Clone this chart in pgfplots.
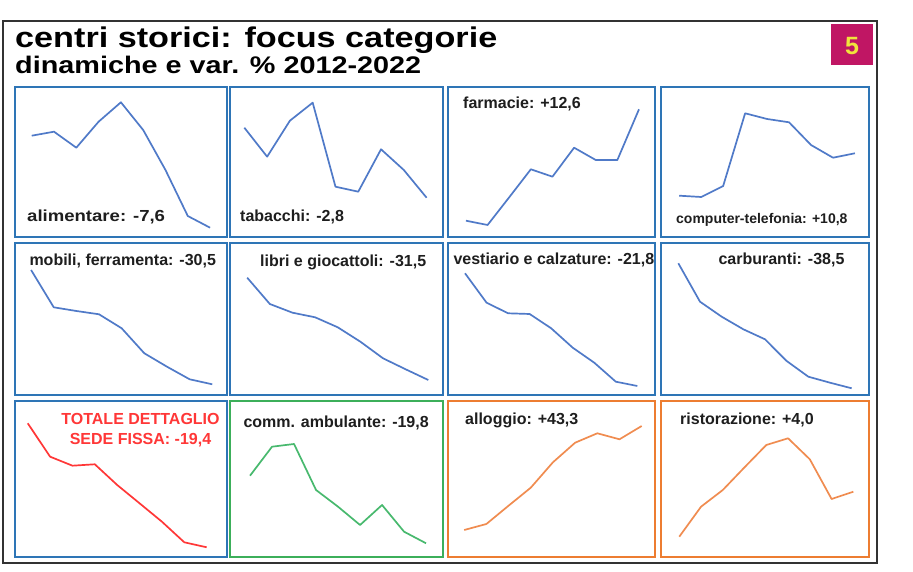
\documentclass[border=0pt]{standalone}
\usepackage{fontspec}
\setmainfont{Liberation Sans}
\newfontfamily\titlefont{Liberation Sans}[FakeStretch=1.2]
\usepackage{pgfplots}
\pgfplotsset{compat=1.18}
\definecolor{pblue}{RGB}{46,117,182}
\definecolor{lblue}{RGB}{80,122,200}
\definecolor{porange}{RGB}{237,125,49}
\definecolor{lorange}{RGB}{240,140,80}
\definecolor{pgreen}{RGB}{60,175,90}
\definecolor{lgreen}{RGB}{72,185,110}
\definecolor{lred}{RGB}{255,55,55}
\definecolor{badge}{RGB}{192,22,100}
\definecolor{badgey}{RGB}{240,228,60}
\definecolor{labgray}{RGB}{30,30,30}
\pgfplotsset{
  panel/.style n args={7}{
    at={(#1pt,#2pt)}, anchor=south west, scale only axis,
    width=#3pt, height=#4pt, xmin=#5, xmax=#6, ymin=0, ymax=#4,
    xtick=\empty, ytick=\empty,
    axis line style={draw=#7, line width=2.6pt},
    every axis plot/.append style={line width=1.7pt, line join=round},
  }
}
\tikzset{lab/.style={anchor=base west, inner sep=0pt, text=labgray, font=\bfseries\fontsize{16}{19}\selectfont}}
\begin{document}
\begin{tikzpicture}[x=1pt,y=1pt]
\useasboundingbox (0,0) rectangle (913,572);
\fill[white] (0,0) rectangle (913,572);
\draw[line width=1.3pt, black!80] (3,9) rectangle (877,551);
\fill[badge] (831,507) rectangle (873,548);
\node[anchor=base, inner sep=0pt, text=badgey, font=\bfseries\fontsize{25}{30}\selectfont] at (852,517) {5};
\node[anchor=base west, inner sep=0pt, font=\titlefont\bfseries\fontsize{28.5}{34}\selectfont] at (15,524.7) {centri storici: focus categorie};
\node[anchor=base west, inner sep=0pt, font=\titlefont\bfseries\fontsize{24}{29}\selectfont] at (15,498) {dinamiche e var. \% 2012-2022};
% row 1
\begin{axis}[panel={15}{335}{212}{150}{0.25}{9.76}{pblue}]
\addplot[lblue] coordinates {(1,101.3) (2,105.3) (3,89.3) (4,115.3) (5,134.7) (6,107) (7,67) (8,21) (9,9.3)};
\end{axis}
\begin{axis}[panel={230}{335}{213}{150}{0.37}{9.72}{pblue}]
\addplot[lblue] coordinates {(1,109.3) (2,80.3) (3,116.3) (4,134.3) (5,50.3) (6,45.3) (7,87.7) (8,67) (9,39.3)};
\end{axis}
\begin{axis}[panel={448}{335}{207}{150}{0.17}{9.74}{pblue}]
\addplot[lblue] coordinates {(1,16.3) (2,12) (3,39.7) (4,67.7) (5,60.3) (6,89.3) (7,77) (8,77) (9,127.7)};
\end{axis}
\begin{axis}[panel={661}{335}{208}{150}{0.17}{9.64}{pblue}]
\addplot[lblue] coordinates {(1,41.3) (2,40) (3,51) (4,123.7) (5,118) (6,114.7) (7,92) (8,79.3) (9,83.7)};
\end{axis}
% row 2
\begin{axis}[panel={15}{177}{212}{152}{0.29}{9.65}{pblue}]
\addplot[lblue] coordinates {(1,125) (2,87.7) (3,84) (4,80.7) (5,66.7) (6,41.7) (7,28.3) (8,15.7) (9,10.7)};
\end{axis}
\begin{axis}[panel={230}{177}{213}{152}{0.24}{9.65}{pblue}]
\addplot[lblue] coordinates {(1,117.3) (2,91) (3,82.3) (4,77.7) (5,67.7) (6,53.3) (7,36.7) (8,25.7) (9,15)};
\end{axis}
\begin{axis}[panel={448}{177}{207}{152}{0.21}{9.82}{pblue}]
\addplot[lblue] coordinates {(1,121.7) (2,92.3) (3,81.7) (4,81) (5,66.7) (6,47.3) (7,32.3) (8,13.3) (9,9)};
\end{axis}
\begin{axis}[panel={661}{177}{208}{152}{0.20}{9.80}{pblue}]
\addplot[lblue] coordinates {(1,131.7) (2,93.3) (3,78.3) (4,65.7) (5,55.7) (6,34) (7,18.3) (8,12.3) (9,6.7)};
\end{axis}
% row 3
\begin{axis}[panel={15}{15}{212}{156}{0.43}{9.91}{pblue}]
\addplot[lred] coordinates {(1,133.7) (2,100.3) (3,91.3) (4,92.7) (5,72) (6,53.7) (7,35.3) (8,14.7) (9,9.7)};
\end{axis}
\begin{axis}[panel={230}{15}{213}{156}{0.09}{9.77}{pgreen}]
\addplot[lgreen] coordinates {(1,81.3) (2,110.3) (3,113) (4,67) (5,50.3) (6,32) (7,52) (8,25.3) (9,13.7)};
\end{axis}
\begin{axis}[panel={448}{15}{207}{156}{0.27}{9.60}{porange}]
\addplot[lorange] coordinates {(1,27) (2,33) (3,51.3) (4,69.3) (5,94.7) (6,114.3) (7,123.7) (8,117.7) (9,131)};
\end{axis}
\begin{axis}[panel={661}{15}{208}{156}{0.16}{9.72}{porange}]
\addplot[lorange] coordinates {(1,20.3) (2,50.3) (3,67) (4,89.7) (5,112) (6,118.7) (7,97.7) (8,58) (9,65.3)};
\end{axis}
% labels
\node[lab] at (27,350.3) {\scalebox{1.16}[1]{alimentare: -7,6}};
\node[lab] at (240,350.3) {tabacchi: -2,8};
\node[lab] at (463,463.7) {farmacie: +12,6};
\node[lab, font=\bfseries\fontsize{14}{17}\selectfont] at (676,348.7) {computer-telefonia: +10,8};
\node[lab] at (29.3,306.3) {mobili, ferramenta: -30,5};
\node[lab] at (260,305.3) {libri e giocattoli: -31,5};
\node[lab] at (453.3,307.7) {vestiario e calzature: -21,8};
\node[lab] at (718.3,307.7) {carburanti: -38,5};
\node[anchor=base, inner sep=0pt, text=lred, font=\bfseries\fontsize{16}{19}\selectfont] at (140.5,147.7) {TOTALE DETTAGLIO};
\node[anchor=base, inner sep=0pt, text=lred, font=\bfseries\fontsize{16}{19}\selectfont] at (140.5,127) {SEDE FISSA: -19,4};
\node[lab] at (243.3,144.7) {comm. ambulante: -19,8};
\node[lab] at (465,147) {alloggio: +43,3};
\node[lab] at (680,147) {ristorazione: +4,0};
\end{tikzpicture}
\end{document}
